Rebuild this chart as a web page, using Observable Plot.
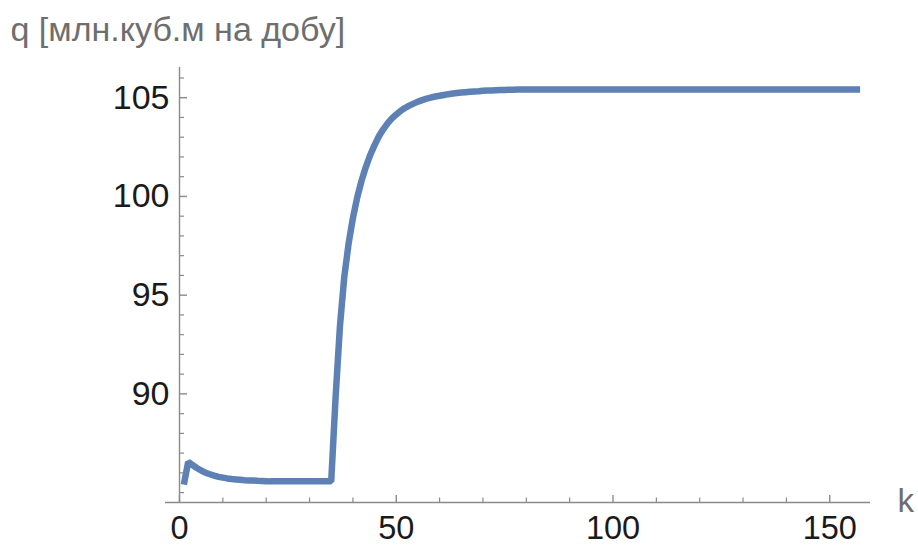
<!DOCTYPE html>
<html>
<head>
<meta charset="utf-8">
<script src="https://cdn.jsdelivr.net/npm/d3@7"></script>
<script src="https://cdn.jsdelivr.net/npm/@observablehq/plot@0.6"></script>
<style>
  html, body { margin: 0; padding: 0; background: #fff; }
  #chart svg { display: block; }
</style>
</head>
<body>
<div id="chart"></div>
<script>
// Daily gas flow q per step k
const q = [
  85.40, 86.55, 86.40, 86.25, 86.12, 86.01, 85.93, 85.86, 85.80, 85.76,
  85.72, 85.69, 85.67, 85.65, 85.63, 85.62, 85.61, 85.60, 85.59, 85.58,
  85.57, 85.57, 85.57, 85.57, 85.57, 85.57, 85.57, 85.57, 85.57, 85.57,
  85.57, 85.57, 85.57, 85.57, 85.57, 89.80, 93.40, 95.90, 97.60, 98.90,
  99.95, 100.80, 101.50, 102.10, 102.60, 103.05, 103.40, 103.70, 103.95, 104.15,
  104.33, 104.48, 104.60, 104.70, 104.80, 104.88, 104.95, 105.01, 105.06, 105.10,
  105.14, 105.18, 105.21, 105.24, 105.26, 105.28, 105.30, 105.32, 105.33, 105.35,
  105.36, 105.37, 105.38, 105.39, 105.39, 105.40, 105.40, 105.41, 105.41, 105.42,
  105.42, 105.42, 105.42, 105.42, 105.42, 105.42, 105.42, 105.42, 105.42, 105.42,
  105.42, 105.42, 105.42, 105.42, 105.42, 105.42, 105.42, 105.42, 105.42, 105.42,
  105.42, 105.42, 105.42, 105.42, 105.42, 105.42, 105.42, 105.42, 105.42, 105.42,
  105.42, 105.42, 105.42, 105.42, 105.42, 105.42, 105.42, 105.42, 105.42, 105.42,
  105.42, 105.42, 105.42, 105.42, 105.42, 105.42, 105.42, 105.42, 105.42, 105.42,
  105.42, 105.42, 105.42, 105.42, 105.42, 105.42, 105.42, 105.42, 105.42, 105.42,
  105.42, 105.42, 105.42, 105.42, 105.42, 105.42, 105.42, 105.42, 105.42, 105.42,
  105.42, 105.42, 105.42, 105.42, 105.42, 105.42, 105.42
];
const kFirst = 1;

// Axis ticks
const xMajor = [0, 50, 100, 150];
const xMinor = [10, 20, 30, 40, 60, 70, 80, 90, 110, 120, 130, 140];
const yMajor = [90, 95, 100, 105];
const yMinor = [85, 86, 87, 88, 89, 91, 92, 93, 94, 96, 97, 98, 99, 101, 102, 103, 104, 106];

const yLabel = "q [млн.куб.м на добу]";
const xLabel = "k";

const xDomain = [-3.23, 159.4];
const yDomain = [84.5, 106.53];

const points = q.map((v, i) => ({k: kFirst + i, q: v}));

const axisColor = "#8a8a8a";
const font = "'Liberation Sans', Arial, sans-serif";

const chart = Plot.plot({
  width: 918,
  height: 545,
  marginLeft: 165,
  marginRight: 48,
  marginTop: 67,
  marginBottom: 43,
  style: {fontFamily: font, background: "#fff", overflow: "visible"},
  x: {domain: xDomain},
  y: {domain: yDomain},
  marks: [
    // axis lines crossing at the origin (0, 84.5)
    Plot.ruleY([yDomain[0]], {stroke: axisColor, strokeWidth: 1.4}),
    Plot.ruleX([0], {stroke: axisColor, strokeWidth: 1.4}),
    // inward tick marks
    Plot.axisX(xMajor, {tickSize: -7, stroke: axisColor, strokeWidth: 1.4, fill: "none", label: null}),
    Plot.axisX(xMinor, {tickSize: -4.5, stroke: axisColor, strokeWidth: 1.2, fill: "none", label: null}),
    Plot.axisY(yMajor, {x: 0, tickSize: -8, stroke: axisColor, strokeWidth: 1.4, fill: "none", label: null}),
    Plot.axisY(yMinor, {x: 0, tickSize: -5, stroke: axisColor, strokeWidth: 1.2, fill: "none", label: null}),
    // tick labels
    Plot.axisX(xMajor, {tickSize: 0, tickPadding: 13, stroke: "none", fill: "#1a1a1a", fontSize: 32.5, label: null}),
    Plot.axisY(yMajor, {x: 0, tickSize: 0, tickPadding: 10, stroke: "none", fill: "#1a1a1a", fontSize: 34, label: null}),
    // the series
    Plot.line(points, {
      x: "k", y: "q",
      stroke: "#5E81B5", strokeWidth: 6.5,
      strokeLinejoin: "miter", strokeLinecap: "butt", curve: "linear"
    }),
    // axis titles
    Plot.text([yLabel], {
      frameAnchor: "top-left", text: d => d, textAnchor: "start", lineAnchor: "top",
      dx: -155, dy: -51, fontSize: 34, fill: "#6e6e6e"
    }),
    Plot.text([xLabel], {
      frameAnchor: "bottom-right", text: d => d, textAnchor: "start", lineAnchor: "top",
      dx: 27, dy: -14, fontSize: 33, fill: "#6e6e6e"
    })
  ]
});

document.getElementById("chart").appendChild(chart);
</script>
</body>
</html>
